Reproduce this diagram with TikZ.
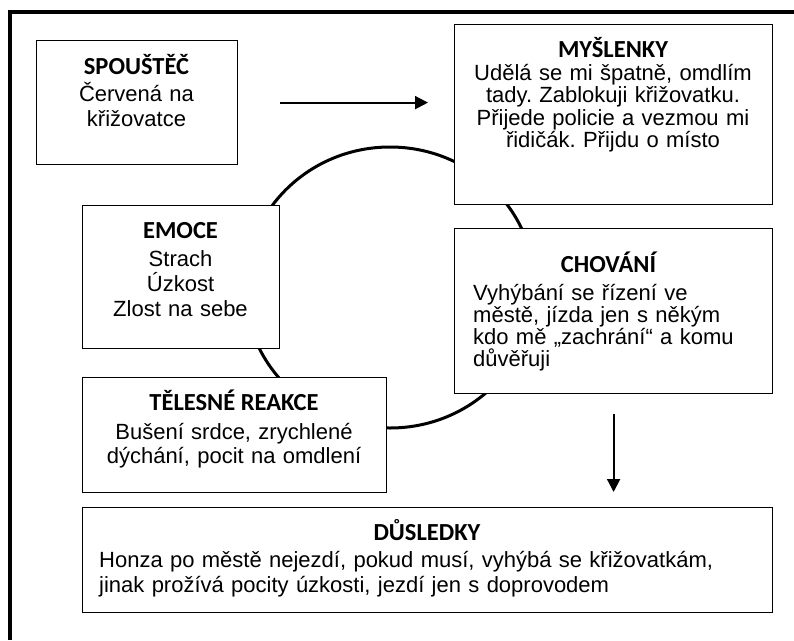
\documentclass[tikz,border=0pt]{standalone}
\usepackage{fontspec}
\setmainfont{Liberation Sans}
\newfontfamily\headfont{Carlito}
\frenchspacing
\usetikzlibrary{arrows.meta}

\begin{document}
\begin{tikzpicture}[
  x=1pt, y=-1pt,
  frame/.style={line width=4pt},
  loopline/.style={line width=3pt},
  box/.style={draw, rectangle, fill=white, line width=1.2pt, anchor=north west, inner sep=0pt},
  head/.style={anchor=base, inner sep=0pt, font=\headfont\bfseries\fontsize{24.5}{25}\selectfont},
  body/.style 2 args={anchor=base, inner sep=0pt, align=center, text width=#1,
    font={\fontsize{22}{#2}\selectfont\normalbaselineskip=#2}},
  link/.style={line width=2pt, -{Triangle[length=13pt,width=13pt]}}
]
\useasboundingbox (0,0) rectangle (794,640);
\draw[frame] (10,640) -- (10,12) -- (794,12);

% the loop behind the boxes
\draw[loopline] (390,287.5) ellipse [x radius=145pt, y radius=140.5pt];

\node[box, minimum width=201pt, minimum height=124pt] (spou) at (36,40) {};
\node[box, minimum width=318pt, minimum height=180pt] (mysl) at (454,24) {};
\node[box, minimum width=197pt, minimum height=143pt] (emoc) at (82,205) {};
\node[box, minimum width=318pt, minimum height=165pt] (chov) at (454,228) {};
\node[box, minimum width=304pt, minimum height=115pt] (tele) at (82,377) {};
\node[box, minimum width=690pt, minimum height=105pt] (dusl) at (82,507) {};

\node[head] (spouhd) at (136.5,74) {SPOUŠTĚČ};
\node[body={190pt}{25pt}] (spoutx) at (136.5,101.7) {Červená na\\křižovatce};

\node[head] (myslhd) at (613,57) {MYŠLENKY};
\node[body={310pt}{22.5pt}] (mysltx) at (613,80)
  {Udělá se mi špatně, omdlím\\tady. Zablokuji křižovatku.\\Přijede policie a vezmou mi\\řidičák. Přijdu o místo};

\node[head] (emochd) at (180.5,238) {EMOCE};
\node[body={190pt}{25.3pt}] (emoctx) at (180.5,266) {Strach\\Úzkost\\Zlost na sebe};

\node[head] (chovhd) at (608.5,272) {CHOVÁNÍ};
\node[body={295pt}{22pt}, align=left, anchor=base west] (chovtx) at (473,300)
  {Vyhýbání se řízení ve\\městě, jízda jen s někým\\kdo mě „zachrání“ a komu\\důvěřuji};

\node[head] (telehd) at (234,410.7) {TĚLESNÉ REAKCE};
\node[body={300pt}{24pt}] (teletx) at (234,439) {Bušení srdce, zrychlené\\dýchání, pocit na omdlení};

\node[head] (duslhd) at (427,540) {DŮSLEDKY};
\node[body={670pt}{25.7pt}, align=left, anchor=base west] (dusltx) at (99,567)
  {Honza po městě nejezdí, pokud musí, vyhýbá se křižovatkám,\\jinak prožívá pocity úzkosti, jezdí jen s doprovodem};

\draw[link] ([xshift=42pt]spou.east) -- ([xshift=-26pt]mysl.west |- spou.east);
\draw[link] ([yshift=-20pt]chov.south) -- ([yshift=15pt]dusl.north -| chov.south);

\end{tikzpicture}
\end{document}
